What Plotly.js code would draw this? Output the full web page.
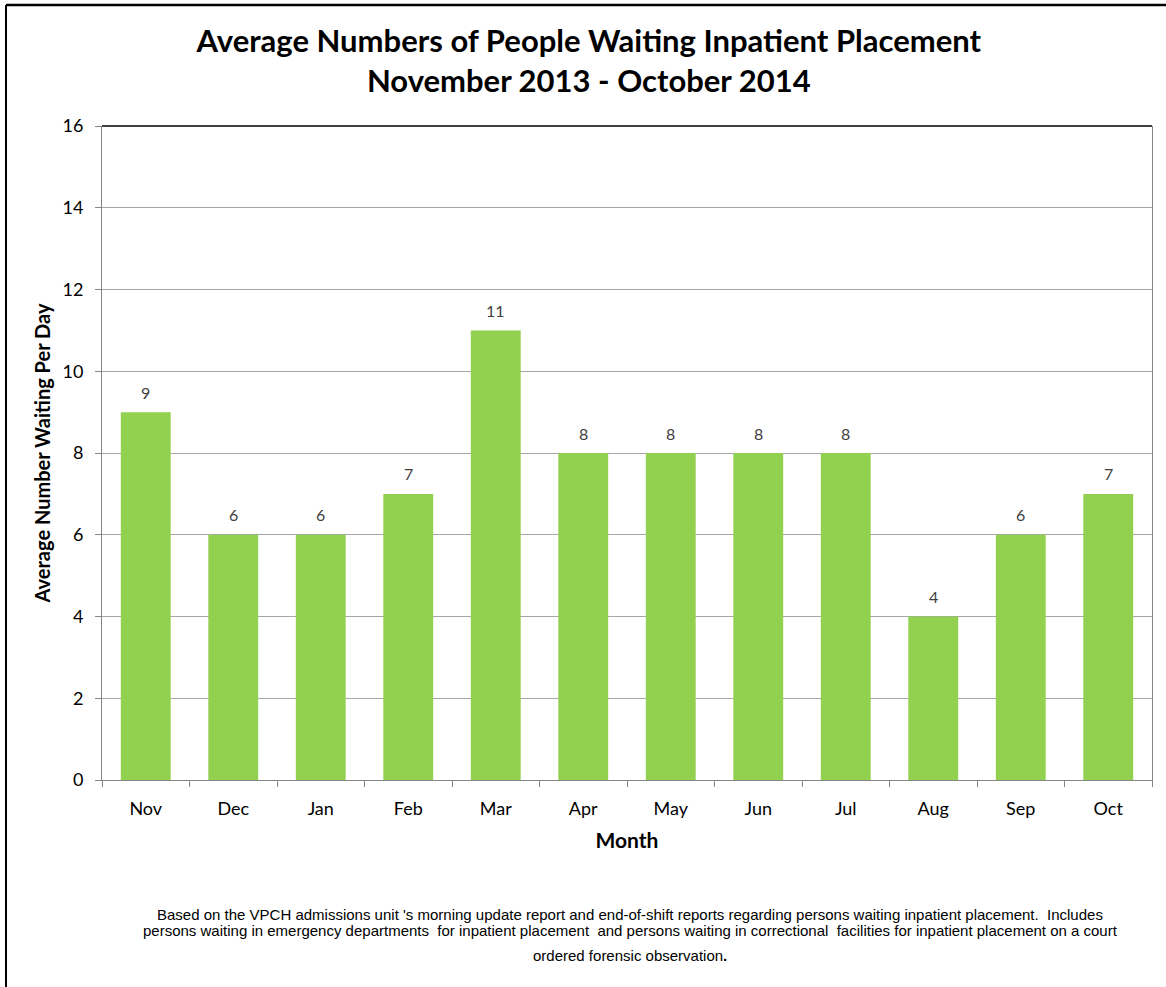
<!DOCTYPE html>
<html>
<head>
<meta charset="utf-8">
<script src="https://cdn.plot.ly/plotly-3.0.1.min.js"></script>
<style>
  html, body { margin: 0; padding: 0; background: #ffffff; }
  #chart { width: 1166px; height: 987px; }
</style>
</head>
<body>
<div id="chart"></div>
<script>
const months = ['Nov', 'Dec', 'Jan', 'Feb', 'Mar', 'Apr', 'May', 'Jun', 'Jul', 'Aug', 'Sep', 'Oct'];
const avgWaiting = [9, 6, 6, 7, 11, 8, 8, 8, 8, 4, 6, 7];
const yTicks = [0, 2, 4, 6, 8, 10, 12, 14, 16];
const footnoteLines = [
  "Based on the VPCH admissions unit 's morning update report and end-of-shift reports regarding persons waiting inpatient placement.  Includes",
  "persons waiting in emergency departments  for inpatient placement  and persons waiting in correctional  facilities for inpatient placement on a court",
  "ordered forensic observation<b>.</b>"
];

const W = 1166, H = 987;
const mL = 102, mR = 14, mT = 126, mB = 207;
const plotW = W - mL - mR, plotH = H - mT - mB;
const px2x = p => (p - mL) / plotW;
const py2y = p => (H - mB - p) / plotH;

const trace = {
  type: 'bar',
  x: months,
  y: avgWaiting,
  marker: { color: '#92D050', line: { width: 0 } },
  hoverinfo: 'x+y'
};

const labelAnn = months.map((m, i) => ({
  xref: 'x', yref: 'y', x: m, y: avgWaiting[i],
  yshift: 20, xanchor: 'center', yanchor: 'middle',
  text: String(avgWaiting[i]), showarrow: false,
  font: { family: 'Lato, sans-serif', size: 16, color: '#404040' }
}));

const footAnn = footnoteLines.map((t, i) => ({
  xref: 'paper', yref: 'paper',
  x: px2x(630), y: py2y([914, 931, 955][i]),
  xanchor: 'center', yanchor: 'middle',
  text: t, showarrow: false,
  font: { family: '"Liberation Sans", Arial, sans-serif', size: 15, color: '#000000' }
}));

const layout = {
  width: W, height: H,
  margin: { l: mL, r: mR, t: mT, b: mB, pad: 0 },
  paper_bgcolor: '#ffffff',
  plot_bgcolor: '#ffffff',
  showlegend: false,
  bargap: 0.43,
  title: {
    text: '<b>Average Numbers of People Waiting Inpatient Placement<br>November 2013 - October 2014</b>',
    x: 0.505, xanchor: 'center',
    y: 1 - 52 / H, yanchor: 'top', yref: 'container',
    font: { family: 'Lato, sans-serif', size: 31, color: '#000000' }
  },
  xaxis: {
    type: 'category',
    tickson: 'boundaries',
    ticks: 'outside', ticklen: 6, tickcolor: '#868686', tickwidth: 1,
    ticklabelstandoff: 12,
    showline: true, linecolor: '#868686', linewidth: 1,
    showgrid: false, zeroline: false,
    tickfont: { family: 'Lato, sans-serif', size: 18, color: '#000000' },
    title: { text: '<b>Month</b>', standoff: 15, font: { family: 'Lato, sans-serif', size: 21, color: '#000000' } }
  },
  yaxis: {
    range: [0, 16],
    tickvals: yTicks,
    ticks: 'outside', ticklen: 6, tickcolor: '#868686', tickwidth: 1,
    ticklabelstandoff: 8,
    showline: true, linecolor: '#868686', linewidth: 1, mirror: true,
    showgrid: true, gridcolor: '#a6a6a6', gridwidth: 1,
    zeroline: false,
    tickfont: { family: 'Lato, sans-serif', size: 18, color: '#000000' },
    title: { text: '<b>Average Number Waiting Per Day</b>', standoff: 6, font: { family: 'Lato, sans-serif', size: 20, color: '#000000' } }
  },
  shapes: [
    { type: 'line', xref: 'paper', yref: 'paper', x0: 0, x1: 1, y0: 1, y1: 1, line: { color: '#000000', width: 1.5 } },
    { type: 'line', xref: 'paper', yref: 'paper', x0: px2x(6), x1: px2x(W + 5), y0: py2y(5), y1: py2y(5), line: { color: '#000000', width: 2.5 } },
    { type: 'line', xref: 'paper', yref: 'paper', x0: px2x(6), x1: px2x(6), y0: py2y(5), y1: py2y(H + 5), line: { color: '#000000', width: 2 } }
  ],
  annotations: labelAnn.concat(footAnn)
};

Plotly.newPlot('chart', [trace], layout, { displayModeBar: false, staticPlot: true });
</script>
</body>
</html>
